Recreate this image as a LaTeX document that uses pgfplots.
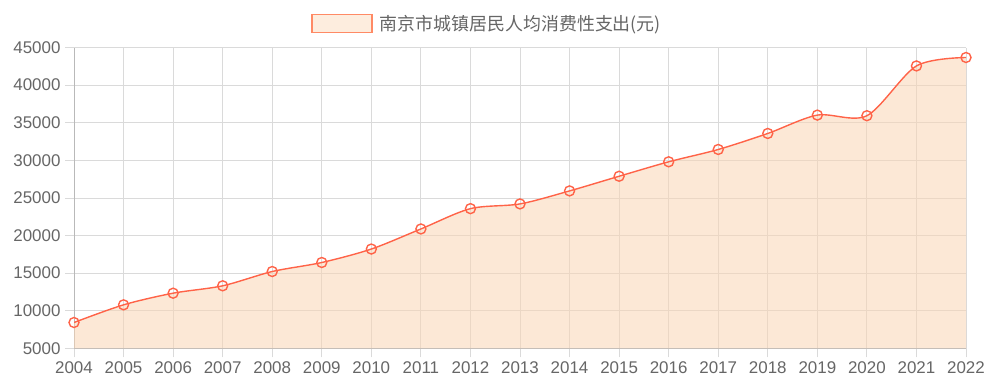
\documentclass[border=0pt]{standalone}
\usepackage{pgfplots}
\usepackage{pgfplotstable}
\pgfplotsset{compat=1.18}
\usepackage{fontspec}
\setmainfont{Liberation Sans}
\newfontfamily\cjk{Noto Sans CJK SC}
\definecolor{linecol}{RGB}{255,99,72}
\definecolor{fillcol}{RGB}{249,214,181}
\definecolor{legfill}{RGB}{253,237,222}
\definecolor{legborder}{RGB}{255,138,101}
\definecolor{gridcol}{RGB}{218,218,218}
\definecolor{txtcol}{RGB}{102,102,102}
\pgfplotstableread{
year value
2004 8430
2005 10780
2006 12330
2007 13310
2008 15210
2009 16410
2010 18200
2011 20870
2012 23570
2013 24200
2014 25930
2015 27880
2016 29800
2017 31440
2018 33570
2019 36010
2020 35930
2021 42550
2022 43670
}\datatable
\begin{document}
\begin{tikzpicture}
\begin{axis}[
  scale only axis,
  width=892bp, height=300.8bp,
  xmin=2004, xmax=2022, ymin=5000, ymax=45000,
  xtick={2004,2005,...,2022},
  ytick={5000,10000,...,45000},
  scaled ticks=false,
  /pgf/number format/1000 sep={},
  /pgf/number format/assume math mode=true,
  grid=major,
  grid style={draw=gridcol, line width=0.8bp},
  axis line style={draw=gridcol!85!black, line width=0.8bp},
  axis x line*=bottom, axis y line*=left,
  tick align=outside,
  major tick length=9bp,
  tick style={draw=gridcol, line width=0.8bp},
  ticklabel style={font=\fontsize{17}{20}\selectfont, text=txtcol},
  yticklabel style={xshift=-1bp},
  xticklabel style={yshift=-1bp},
  clip mode=individual,
  legend style={at={(0.463,1.08)}, anchor=center, draw=none, fill=none,
    font=\cjk\fontsize{18}{21}\selectfont, text=txtcol},
  legend cell align=left,
]
\addplot[draw=none, fill=fillcol, fill opacity=0.55, smooth, tension=0.5, forget plot]
  table[x=year, y=value] {\datatable} \closedcycle;
\addplot[draw=linecol, line width=1.4bp, smooth, tension=0.5, forget plot,
  mark=o, mark size=5bp, mark options={draw=linecol, line width=1.4bp, fill=none}]
  table[x=year, y=value] {\datatable};
\addlegendimage{legend image code/.code={\draw[draw=legborder, line width=1.6bp, fill=legfill] (0bp,-9bp) rectangle (60bp,9bp); \path[draw=none, fill=none] (0bp,-1bp) rectangle (66bp,1bp);}}
\addlegendentry{南京市城镇居民人均消费性支出(元)}
\end{axis}
\pgfresetboundingbox
\path[use as bounding box] (-74bp,-41.7bp) rectangle (916bp,348.3bp);
\end{tikzpicture}
\end{document}
